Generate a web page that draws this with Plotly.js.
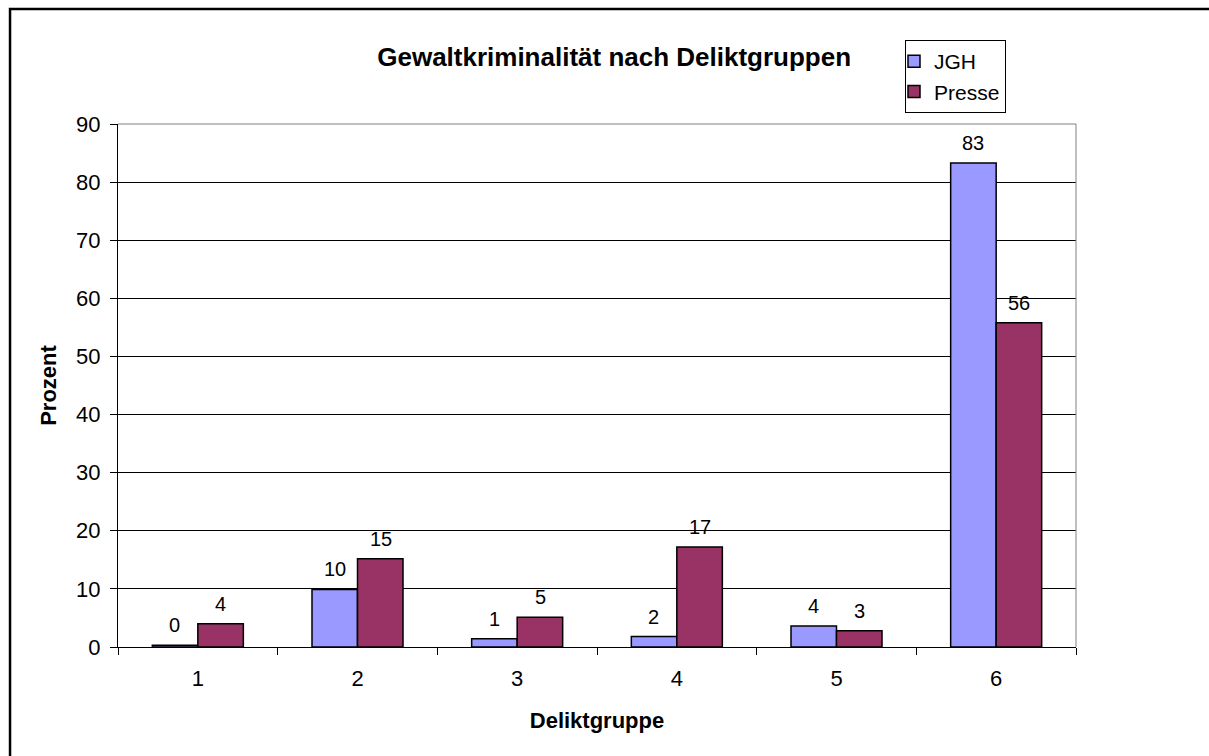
<!DOCTYPE html>
<html>
<head>
<meta charset="utf-8">
<script src="https://cdn.plot.ly/plotly-3.0.1.min.js"></script>
<style>
html,body{margin:0;padding:0;background:#fff;}
#chart{width:1209px;height:756px;}
</style>
</head>
<body>
<div id="chart"></div>
<script>
// ---- data ----
const categories = ["1", "2", "3", "4", "5", "6"];
const jghValues = [0.3, 9.9, 1.4, 1.8, 3.6, 83.3];
const presseValues = [4.0, 15.2, 5.1, 17.2, 2.8, 55.8];
const yTickValues = [0, 10, 20, 30, 40, 50, 60, 70, 80, 90];
const seriesNames = ["JGH", "Presse"];

const FONT = '"Liberation Sans", Arial, sans-serif';

const traces = [
  {
    type: 'bar', name: seriesNames[0], x: categories, y: jghValues,
    marker: {color: '#9999FF', line: {color: '#000000', width: 1.5}},
    hoverinfo: 'x+y'
  },
  {
    type: 'bar', name: seriesNames[1], x: categories, y: presseValues,
    marker: {color: '#993366', line: {color: '#000000', width: 1.5}},
    hoverinfo: 'x+y'
  }
];

// data labels (x given as category index)
const annotations = [];
[[jghValues, -23], [presseValues, 23]].forEach(([vals, dx]) => {
  vals.forEach((v, i) => {
    annotations.push({
      x: i, y: v, xref: 'x', yref: 'y',
      text: String(Math.round(v)), showarrow: false,
      xanchor: 'center', yanchor: 'bottom', xshift: dx, yshift: 7,
      font: {family: FONT, size: 20, color: '#000'}
    });
  });
});

const layout = {
  width: 1209, height: 756,
  margin: {l: 118, r: 133, t: 124, b: 109},
  paper_bgcolor: '#ffffff', plot_bgcolor: '#ffffff',
  font: {family: FONT, size: 22, color: '#000'},
  title: {
    text: '<b>Gewaltkriminalität nach Deliktgruppen</b>',
    font: {family: FONT, size: 26, color: '#000'},
    xref: 'container', x: 0.508, xanchor: 'center',
    yref: 'container', y: 0.9246, yanchor: 'middle'
  },
  barmode: 'group', bargap: 0.43, bargroupgap: 0,
  showlegend: true,
  legend: {
    x: 0.8215, y: 1.1606, xanchor: 'left', yanchor: 'top',
    bordercolor: '#000', borderwidth: 1, bgcolor: '#fff',
    font: {family: FONT, size: 21, color: '#000'},
    tracegroupgap: 0, indentation: -12
  },
  xaxis: {
    type: 'category', range: [-0.5, 5.5], autorange: false,
    showline: true, linecolor: '#000', linewidth: 1,
    ticks: 'outside', tickson: 'boundaries', ticklen: 7, tickcolor: '#000',
    ticklabelstandoff: 12,
    showgrid: false, zeroline: false,
    tickfont: {family: FONT, size: 22, color: '#000'},
    title: {text: '<b>Deliktgruppe</b>', font: {family: FONT, size: 22, color: '#000'}, standoff: 22}
  },
  yaxis: {
    range: [0, 90], autorange: false, tickvals: yTickValues,
    showline: true, linecolor: '#000', linewidth: 1,
    ticks: 'outside', ticklen: 7, tickcolor: '#000',
    ticklabelstandoff: 5,
    showgrid: true, gridcolor: '#000', gridwidth: 1,
    zeroline: false,
    tickfont: {family: FONT, size: 22, color: '#000'},
    title: {text: '<b>Prozent</b>', font: {family: FONT, size: 22, color: '#000'}, standoff: 13}
  },
  shapes: [
    // gray plot border top & right
    {type: 'line', xref: 'paper', yref: 'paper', x0: 0, x1: 1, y0: 1, y1: 1, line: {color: '#808080', width: 1}},
    {type: 'line', xref: 'paper', yref: 'paper', x0: 1, x1: 1, y0: 0, y1: 1, line: {color: '#808080', width: 1}},
    // outer chart border
    {type: 'rect', xref: 'paper', yref: 'paper', x0: -0.1127, x1: 1.3, y0: -0.4, y1: 1.2199,
     line: {color: '#000', width: 2.5}, fillcolor: 'rgba(0,0,0,0)', layer: 'below'}
  ],
  annotations: annotations
};

Plotly.newPlot('chart', traces, layout, {displayModeBar: false, staticPlot: true});
</script>
</body>
</html>
